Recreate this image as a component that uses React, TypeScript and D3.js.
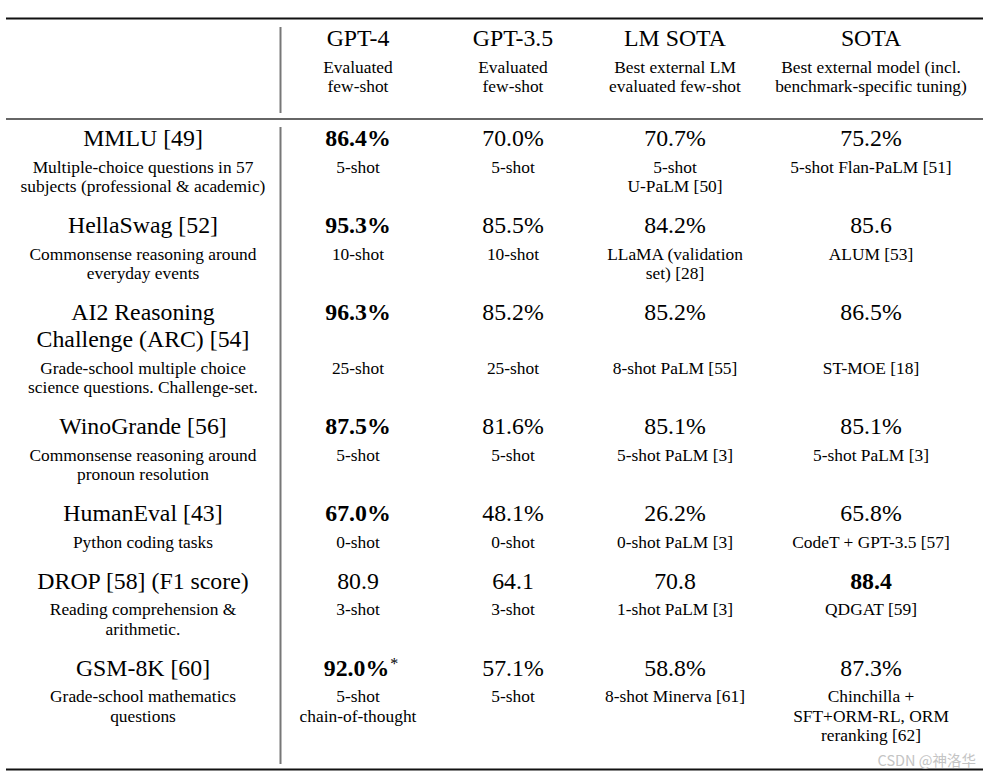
import React from "react";
import * as d3 from "d3";

const columns = ["GPT-4", "GPT-3.5", "LM SOTA", "SOTA"];
const columnNotes = [
  ["Evaluated", "few-shot"],
  ["Evaluated", "few-shot"],
  ["Best external LM", "evaluated few-shot"],
  ["Best external model (incl.", "benchmark-specific tuning)"],
];

const benchmarks = [
  ["MMLU [49]"],
  ["HellaSwag [52]"],
  ["AI2 Reasoning", "Challenge (ARC) [54]"],
  ["WinoGrande [56]"],
  ["HumanEval [43]"],
  ["DROP [58] (F1 score)"],
  ["GSM-8K [60]"],
];
const benchmarkNotes = [
  ["Multiple-choice questions in 57", "subjects (professional & academic)"],
  ["Commonsense reasoning around", "everyday events"],
  ["Grade-school multiple choice", "science questions. Challenge-set."],
  ["Commonsense reasoning around", "pronoun resolution"],
  ["Python coding tasks"],
  ["Reading comprehension &", "arithmetic."],
  ["Grade-school mathematics", "questions"],
];

const gpt4Scores = ["86.4%", "95.3%", "96.3%", "87.5%", "67.0%", "80.9", "92.0%"];
const gpt35Scores = ["70.0%", "85.5%", "85.2%", "81.6%", "48.1%", "64.1", "57.1%"];
const lmSotaScores = ["70.7%", "84.2%", "85.2%", "85.1%", "26.2%", "70.8", "58.8%"];
const sotaScores = ["75.2%", "85.6", "86.5%", "85.1%", "65.8%", "88.4", "87.3%"];

const gpt4Notes = [["5-shot"], ["10-shot"], ["25-shot"], ["5-shot"], ["0-shot"], ["3-shot"], ["5-shot", "chain-of-thought"]];
const gpt35Notes = [["5-shot"], ["10-shot"], ["25-shot"], ["5-shot"], ["0-shot"], ["3-shot"], ["5-shot"]];
const lmSotaNotes = [
  ["5-shot", "U-PaLM [50]"],
  ["LLaMA (validation", "set) [28]"],
  ["8-shot PaLM [55]"],
  ["5-shot PaLM [3]"],
  ["0-shot PaLM [3]"],
  ["1-shot PaLM [3]"],
  ["8-shot Minerva [61]"],
];
const sotaNotes = [
  ["5-shot Flan-PaLM [51]"],
  ["ALUM [53]"],
  ["ST-MOE [18]"],
  ["5-shot PaLM [3]"],
  ["CodeT + GPT-3.5 [57]"],
  ["QDGAT [59]"],
  ["Chinchilla +", "SFT+ORM-RL, ORM", "reranking [62]"],
];
// index of the best column per row (0 = GPT-4 ... 3 = SOTA)
const bestColumn = [0, 0, 0, 0, 0, 3, 0];
const starred = [false, false, false, false, false, false, true];

const W = 990;
const H = 779;
const FONT = "'Liberation Serif', 'Times New Roman', serif";

export default function App() {
  const colX = d3.scaleOrdinal<string, number>()
    .domain(["label", ...columns])
    .range([143, 358, 513, 675, 871]);

  const titleLH = 27;
  const noteLH = 19.5;
  const titleToNote = 29;
  const afterNotes = 38.5;
  const firstRowCenter = 138;

  const rowCenters: number[] = [];
  let y = firstRowCenter;
  benchmarks.forEach((b, i) => {
    rowCenters.push(y);
    const nNotes = Math.max(
      benchmarkNotes[i].length,
      gpt4Notes[i].length,
      gpt35Notes[i].length,
      lmSotaNotes[i].length,
      sotaNotes[i].length
    );
    y += (b.length - 1) * titleLH + titleToNote + (nNotes - 1) * noteLH + afterNotes;
  });

  const scores = [gpt4Scores, gpt35Scores, lmSotaScores, sotaScores];
  const notes = [gpt4Notes, gpt35Notes, lmSotaNotes, sotaNotes];

  const bigOff = 8;
  const smallOff = 5.5;
  const bigSize = 23.8;
  const smallSize = 17.4;

  return (
    <svg width={W} height={H} style={{ position: "absolute", left: 0, top: 0, background: "#fff" }}
      fontFamily={FONT}>
      <rect width={W} height={H} fill="#fff" />
      <line x1={6} x2={983} y1={18.5} y2={18.5} stroke="#111" strokeWidth={2} />
      <line x1={6} x2={983} y1={119} y2={119} stroke="#333" strokeWidth={1.6} />
      <line x1={6} x2={983} y1={769.5} y2={769.5} stroke="#111" strokeWidth={2} />
      <line x1={280.5} x2={280.5} y1={27} y2={113} stroke="#777" strokeWidth={2} />
      <line x1={280.5} x2={280.5} y1={127} y2={764} stroke="#777" strokeWidth={2} />

      {columns.map((c, j) => (
        <g key={c} textAnchor="middle" fill="#000">
          <text x={colX(c)} y={38 + bigOff} fontSize={bigSize}>{c}</text>
          {columnNotes[j].map((t, k) => (
            <text key={k} x={colX(c)} y={67 + k * noteLH + smallOff} fontSize={smallSize}>{t}</text>
          ))}
        </g>
      ))}

      {benchmarks.map((b, i) => {
        const cy = rowCenters[i];
        const noteY = cy + (b.length - 1) * titleLH + titleToNote;
        return (
          <g key={i} textAnchor="middle" fill="#000">
            {b.map((t, k) => (
              <text key={k} x={colX("label")} y={cy + k * titleLH + bigOff} fontSize={bigSize}>{t}</text>
            ))}
            {benchmarkNotes[i].map((t, k) => (
              <text key={k} x={colX("label")} y={noteY + k * noteLH + smallOff} fontSize={smallSize}>{t}</text>
            ))}
            {columns.map((c, j) => {
              const isBest = bestColumn[i] === j;
              const star = j === 0 && starred[i];
              return (
                <g key={c}>
                  <text x={colX(c) + (star ? 3 : 0)} y={cy + bigOff} fontSize={bigSize}
                    fontWeight={isBest ? "bold" : "normal"}>
                    {scores[j][i]}
                    {star && <tspan fontWeight="normal" fontSize={16} dx={1} dy={-7}>*</tspan>}
                  </text>
                  {notes[j][i].map((t, k) => (
                    <text key={k} x={colX(c)} y={noteY + k * noteLH + smallOff} fontSize={smallSize}>{t}</text>
                  ))}
                </g>
              );
            })}
          </g>
        );
      })}

      <text x={976} y={766} textAnchor="end" fontSize={14.5} fill="#c4c4c4"
        fontFamily="'Noto Sans CJK SC', 'Noto Sans', sans-serif">CSDN @神洛华</text>
    </svg>
  );
}
